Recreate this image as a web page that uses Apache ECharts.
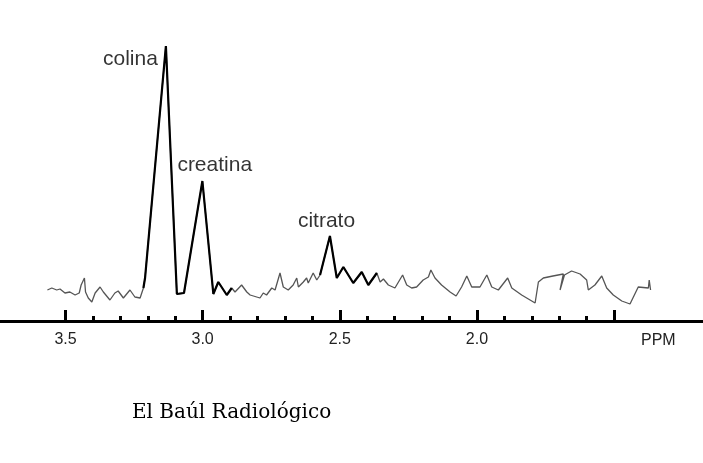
<!DOCTYPE html>
<html>
<head>
<meta charset="utf-8">
<script src="https://cdn.jsdelivr.net/npm/echarts@6/dist/echarts.min.js"></script>
<style>
html,body{margin:0;padding:0;background:#fff;}
#chart{width:703px;height:463px;}
</style>
</head>
<body>
<div id="chart"></div>
<script>
// Spectrum: [ppm, intensity]
const leftBase = [[3.566,31],[3.550,33],[3.532,31],[3.520,32],[3.502,28],[3.484,29],[3.465,26],[3.450,28],[3.443,36],[3.431,43],[3.427,29],[3.417,23],[3.404,19],[3.392,28],[3.374,34],[3.362,29],[3.338,21],[3.320,28],[3.308,30],[3.289,23],[3.265,31],[3.247,24],[3.228,23],[3.216,33]];
const cholineCreatine = [[3.216,33],[3.210,43],[3.134,275],[3.094,27],[3.068,28],[3.001,140],[2.961,27],[2.943,39],[2.912,26],[2.894,33]];
const midBase = [[2.894,33],[2.882,29],[2.858,36],[2.839,29],[2.827,26],[2.803,24],[2.791,23],[2.779,28],[2.767,26],[2.748,33],[2.736,31],[2.718,48],[2.706,34],[2.688,31],[2.670,36],[2.657,43],[2.651,34],[2.633,39],[2.621,43],[2.615,38],[2.597,48],[2.584,41],[2.572,46]];
const citrate = [[2.572,46],[2.536,85],[2.511,43],[2.487,54],[2.451,38],[2.420,49],[2.396,36],[2.365,48]];
const rightBase = [[2.365,48],[2.353,39],[2.341,42],[2.323,36],[2.299,33],[2.271,46],[2.256,36],[2.238,33],[2.220,34],[2.196,41],[2.177,44],[2.168,51],[2.153,43],[2.129,36],[2.098,29],[2.076,25],[2.056,34],[2.037,45],[2.019,34],[1.989,34],[1.964,46],[1.946,34],[1.922,31],[1.888,43],[1.873,33],[1.837,26],[1.788,18],[1.776,39],[1.758,43],[1.723,45],[1.685,47],[1.697,31],[1.681,46],[1.655,50],[1.624,47],[1.600,41],[1.594,31],[1.570,36],[1.545,45],[1.527,33],[1.503,26],[1.472,20],[1.442,17],[1.412,34],[1.375,33],[1.372,41],[1.367,31]];

const peakNames = ['colina', 'creatina', 'citrato'];
const peakPpm = [3.134, 3.001, 2.536];
const peakInt = [275, 140, 85];

const tickLabels = ['3.5', '3.0', '2.5', '2.0'];
const axisName = 'PPM';
const footer = 'El Baúl Radiológico';

// label placement styles (not data)
const peakLabelStyle = [
  {align: 'right', position: [-7, 14]},
  {align: 'left', position: [-24, -15]},
  {align: 'left', position: [-31, -13.5]}
];

const fullSpectrum = leftBase.concat(cholineCreatine.slice(1), midBase.slice(1), citrate.slice(1), rightBase.slice(1));

const chart = echarts.init(document.getElementById('chart'), null, {renderer: 'canvas'});
const sans = 'Liberation Sans, Arial, sans-serif';

chart.setOption({
  animation: false,
  backgroundColor: '#fff',
  title: [
    {text: axisName, left: 636, top: 328, textStyle: {fontFamily: sans, fontSize: 16, fontWeight: 'normal', color: '#222'}},
    {text: footer, left: 127, top: 398, textStyle: {fontFamily: 'DejaVu Serif, serif', fontSize: 20, fontWeight: 'normal', color: '#000'}}
  ],
  grid: [
    {left: 0, right: 0, top: 21, bottom: 142},
    {left: 65.5, right: 88.9, top: 21, bottom: 142}
  ],
  xAxis: [
    {
      gridIndex: 0, type: 'value', inverse: true, min: 1.1759, max: 3.7388,
      axisLine: {show: true, lineStyle: {color: '#000', width: 3}},
      axisTick: {show: false}, axisLabel: {show: false}, splitLine: {show: false}
    },
    {
      gridIndex: 1, type: 'value', inverse: true, min: 1.5, max: 3.5, interval: 0.5,
      axisLine: {show: false},
      axisTick: {show: true, inside: true, length: 11, lineStyle: {color: '#000', width: 3}},
      minorTick: {show: true, splitNumber: 5, length: 5, lineStyle: {color: '#000', width: 3}},
      splitLine: {show: false}, minorSplitLine: {show: false},
      axisLabel: {
        show: true, margin: 11, fontFamily: sans, fontSize: 16, color: '#222',
        formatter: function (v) {
          const s = v.toFixed(1);
          return tickLabels.indexOf(s) >= 0 ? s : '';
        }
      }
    }
  ],
  yAxis: [
    {gridIndex: 0, type: 'value', min: 0, max: 300, show: false},
    {gridIndex: 1, type: 'value', min: 0, max: 300, show: false}
  ],
  series: [
    {
      type: 'line', xAxisIndex: 0, yAxisIndex: 0, data: fullSpectrum, symbol: 'none',
      lineStyle: {color: '#555', width: 1.3}, z: 2
    },
    {
      type: 'line', xAxisIndex: 0, yAxisIndex: 0, data: cholineCreatine, symbol: 'none',
      lineStyle: {color: '#000', width: 2.2}, z: 3
    },
    {
      type: 'line', xAxisIndex: 0, yAxisIndex: 0, data: citrate, symbol: 'none',
      lineStyle: {color: '#000', width: 2.2}, z: 3
    },
    {
      type: 'scatter', xAxisIndex: 0, yAxisIndex: 0, symbolSize: 2,
      itemStyle: {color: 'rgba(0,0,0,0)'}, z: 4,
      data: peakNames.map(function (name, i) {
        return {
          value: [peakPpm[i], peakInt[i]],
          name: name,
          label: {
            show: true, formatter: name, position: peakLabelStyle[i].position,
            align: peakLabelStyle[i].align, verticalAlign: 'middle',
            fontFamily: sans, fontSize: 21, color: '#000'
          }
        };
      })
    }
  ]
});
</script>
</body>
</html>
